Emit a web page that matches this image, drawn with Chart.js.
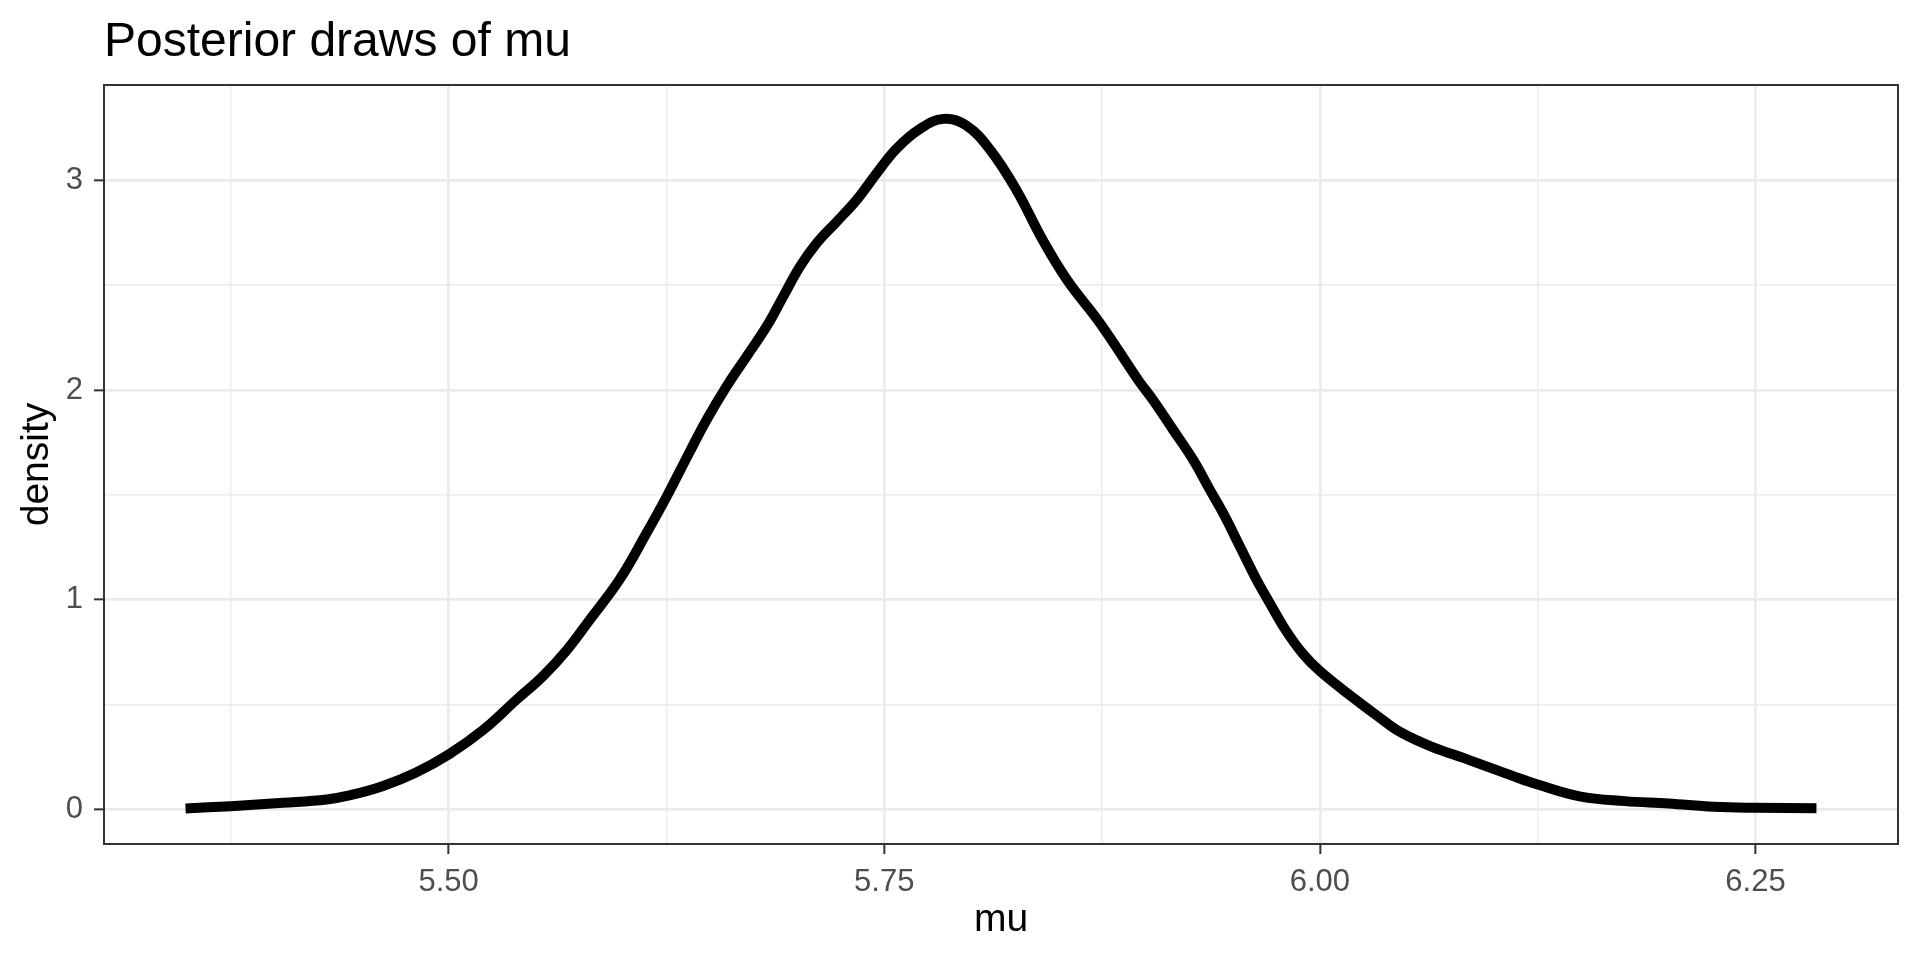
<!DOCTYPE html>
<html>
<head>
<meta charset="utf-8">
<title>Posterior draws of mu</title>
<script src="https://cdn.jsdelivr.net/npm/chart.js@4.4.1/dist/chart.umd.min.js"></script>
<style>
  html, body { margin: 0; padding: 0; background: #ffffff; }
  #wrap { width: 1920px; height: 960px; }
</style>
</head>
<body>
<div id="wrap"><canvas id="chart" width="1920" height="960"></canvas></div>
<script>
var titleText = 'Posterior draws of mu';
var xTitle = 'mu';
var yTitle = 'density';

// density curve
var muValues = [5.349, 5.375, 5.405, 5.430, 5.443, 5.462, 5.481, 5.500, 5.520, 5.539,
                5.554, 5.568, 5.581, 5.598, 5.6135, 5.625, 5.638, 5.648, 5.6594, 5.6709,
                5.6824, 5.6919, 5.7015, 5.711, 5.7225, 5.734, 5.7455, 5.757, 5.7704, 5.784,
                5.797, 5.811, 5.826, 5.841, 5.855, 5.874, 5.8957, 5.9043, 5.9158, 5.9273,
                5.9369, 5.9445, 5.9541, 5.9637, 5.9713, 5.980, 5.990, 6.000, 6.018, 6.034,
                6.046, 6.064, 6.085, 6.111, 6.125, 6.149, 6.175, 6.200, 6.226, 6.250, 6.285];
var densityValues = [0.005, 0.016, 0.032, 0.048, 0.067, 0.111, 0.175, 0.262, 0.381, 0.524,
                     0.635, 0.762, 0.905, 1.095, 1.317, 1.490, 1.700, 1.857, 2.016, 2.159,
                     2.302, 2.444, 2.587, 2.698, 2.801, 2.905, 3.032, 3.151, 3.245, 3.293,
                     3.262, 3.143, 2.952, 2.714, 2.524, 2.317, 2.048, 1.952, 1.810, 1.667,
                     1.524, 1.413, 1.254, 1.095, 0.984, 0.860, 0.745, 0.660, 0.540, 0.440,
                     0.370, 0.300, 0.238, 0.159, 0.119, 0.063, 0.040, 0.029, 0.013, 0.008, 0.006];

var xTicks = [5.375, 5.5, 5.625, 5.75, 5.875, 6.0, 6.125, 6.25];
var xTickLabels = ['', '5.50', '', '5.75', '', '6.00', '', '6.25'];
var yTicks = [0, 0.5, 1, 1.5, 2, 2.5, 3];
var yTickLabels = ['0', '', '1', '', '2', '', '3'];

var xRange = [5.3022, 6.3318];
var yRange = [-0.1645, 3.4545];

var fontFamily = '"Liberation Sans", Arial, Helvetica, sans-serif';
Chart.defaults.font.family = fontFamily;

function isMajor(list, labels, value) {
    var i = list.indexOf(value);
    return i >= 0 && labels[i] !== '';
}

var panelPlugin = {
    id: 'panelBox',
    afterDatasetsDraw: function(chart) {
        var a = chart.chartArea;
        var ctx = chart.ctx;
        ctx.save();
        ctx.strokeStyle = '#333333';
        ctx.lineWidth = 2;
        ctx.strokeRect(a.left, a.top, a.right - a.left, a.bottom - a.top);
        ctx.restore();
    },
    afterDraw: function(chart) {
        var ctx = chart.ctx;
        ctx.save();
        ctx.fillStyle = '#000000';
        ctx.font = '48px ' + fontFamily;
        ctx.textAlign = 'left';
        ctx.textBaseline = 'alphabetic';
        ctx.fillText(titleText, chart.chartArea.left, 56);
        ctx.restore();
    }
};

var points = muValues.map(function(m, i) {
    return { x: m, y: densityValues[i] };
});

new Chart(document.getElementById('chart').getContext('2d'), {
    type: 'line',
    data: {
        datasets: [{
            data: points,
            borderColor: '#000000',
            borderWidth: 10,
            borderCapStyle: 'butt',
            borderJoinStyle: 'round',
            pointRadius: 0,
            fill: false,
            tension: 0.4
        }]
    },
    options: {
        responsive: false,
        animation: false,
        layout: { padding: { left: 0, right: 22, top: 85, bottom: 0 } },
        plugins: {
            legend: { display: false },
            tooltip: { enabled: false },
            title: { display: false }
        },
        scales: {
            x: {
                type: 'linear',
                min: xRange[0],
                max: xRange[1],
                afterBuildTicks: function(scale) {
                    scale.ticks = xTicks.map(function(v) { return { value: v }; });
                },
                afterFit: function(scale) { scale.height = 116; },
                border: { display: false },
                grid: {
                    color: '#EBEBEB',
                    lineWidth: function(c) {
                        return isMajor(xTicks, xTickLabels, c.tick.value) ? 2.7 : 1.4;
                    },
                    drawTicks: true,
                    tickLength: 10,
                    tickWidth: 2,
                    tickColor: function(c) {
                        return isMajor(xTicks, xTickLabels, c.tick.value) ? '#333333' : 'rgba(0,0,0,0)';
                    }
                },
                ticks: {
                    autoSkip: false,
                    maxRotation: 0,
                    padding: 10,
                    color: '#4D4D4D',
                    font: { size: 31 },
                    callback: function(value) {
                        var i = xTicks.indexOf(value);
                        return i >= 0 ? xTickLabels[i] : '';
                    }
                },
                title: {
                    display: true,
                    text: xTitle,
                    color: '#000000',
                    font: { size: 39, lineHeight: 1 },
                    padding: { top: 0, bottom: 20 }
                }
            },
            y: {
                type: 'linear',
                min: yRange[0],
                max: yRange[1],
                afterBuildTicks: function(scale) {
                    scale.ticks = yTicks.map(function(v) { return { value: v }; });
                },
                afterFit: function(scale) { scale.width = 104; },
                border: { display: false },
                grid: {
                    color: '#EBEBEB',
                    lineWidth: function(c) {
                        return isMajor(yTicks, yTickLabels, c.tick.value) ? 2.7 : 1.4;
                    },
                    drawTicks: true,
                    tickLength: 10,
                    tickWidth: 2,
                    tickColor: function(c) {
                        return isMajor(yTicks, yTickLabels, c.tick.value) ? '#333333' : 'rgba(0,0,0,0)';
                    }
                },
                ticks: {
                    autoSkip: false,
                    padding: 11,
                    color: '#4D4D4D',
                    font: { size: 31 },
                    callback: function(value) {
                        var i = yTicks.indexOf(value);
                        return i >= 0 ? yTickLabels[i] : '';
                    }
                },
                title: {
                    display: true,
                    text: yTitle,
                    color: '#000000',
                    font: { size: 39, lineHeight: 1 },
                    padding: { top: 18, bottom: 0 }
                }
            }
        }
    },
    plugins: [panelPlugin]
});
</script>
</body>
</html>
